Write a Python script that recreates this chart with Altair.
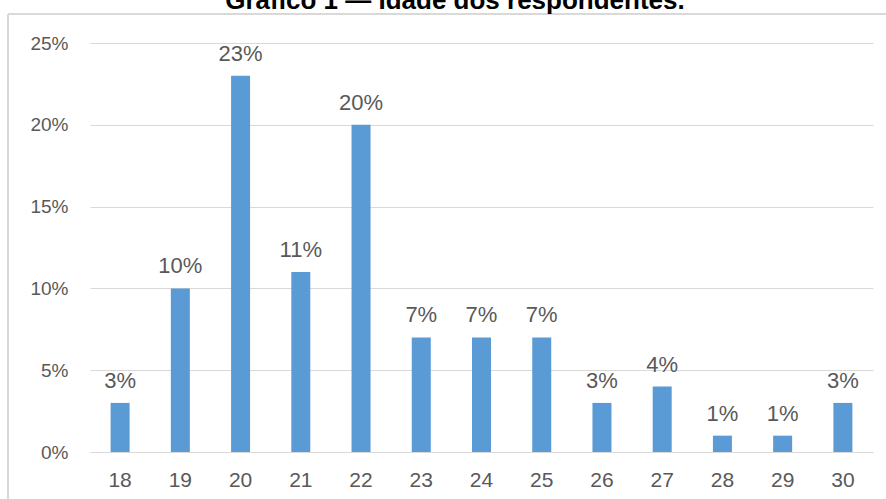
import altair as alt
import pandas as pd

ages = ["18", "19", "20", "21", "22", "23", "24", "25", "26", "27", "28", "29", "30"]
shares = [0.03, 0.10, 0.23, 0.11, 0.20, 0.07, 0.07, 0.07, 0.03, 0.04, 0.01, 0.01, 0.03]
y_ticks = [0, 0.05, 0.10, 0.15, 0.20, 0.25]
title_text = "Gráfico 1 — Idade dos respondentes."

df = pd.DataFrame({"idade": ages, "pct": shares})

FONT = "Liberation Sans"
GRAY = "#595959"

x = alt.X("idade:N", sort=ages, title=None,
          scale=alt.Scale(paddingInner=0.685, paddingOuter=0.3425),
          axis=alt.Axis(labelAngle=0, labelFontSize=21, labelColor=GRAY, labelFont=FONT,
                        labelPadding=17, ticks=False, domain=True, domainColor="#d9d9d9",
                        domainWidth=1, grid=False))
y = alt.Y("pct:Q", title=None,
          scale=alt.Scale(domain=[0, 0.25], nice=False),
          axis=alt.Axis(values=y_ticks, format=".0%", labelFontSize=19, labelColor=GRAY,
                        labelFont=FONT, labelPadding=22, ticks=False, domain=False,
                        grid=True, gridColor="#d9d9d9", gridWidth=1))

bars = alt.Chart(df).mark_bar(color="#5b9bd5", size=19).encode(x=x, y=y)
labels = alt.Chart(df).mark_text(fontSize=22, color=GRAY, font=FONT, dy=-15,
                                 baseline="alphabetic").encode(
    x=alt.X("idade:N", sort=ages), y="pct:Q", text=alt.Text("pct:Q", format=".0%"))

title_df = pd.DataFrame({"t": [title_text]})
title = alt.Chart(title_df).mark_text(fontSize=26, fontWeight="bold", color="#000000",
                                      font=FONT, baseline="alphabetic", align="center").encode(
    x=alt.value(365), y=alt.value(-34), text="t:N")

border_top = alt.Chart(title_df).mark_rule(color="#d9d9d9", strokeWidth=2).encode(
    x=alt.value(-82), x2=alt.value(800), y=alt.value(-29))
border_left = alt.Chart(title_df).mark_rule(color="#d9d9d9", strokeWidth=2).encode(
    x=alt.value(-82), y=alt.value(-29), y2=alt.value(460))

chart = alt.layer(border_top, border_left, bars, labels, title).properties(
    width=783, height=409,
    autosize=alt.AutoSizeParams(type="none"),
    padding={"left": 90, "top": 43, "right": 13, "bottom": 47},
    background="white",
).configure_view(stroke=None)

chart.save("out.html", embed_options={"renderer": "svg", "actions": False})
